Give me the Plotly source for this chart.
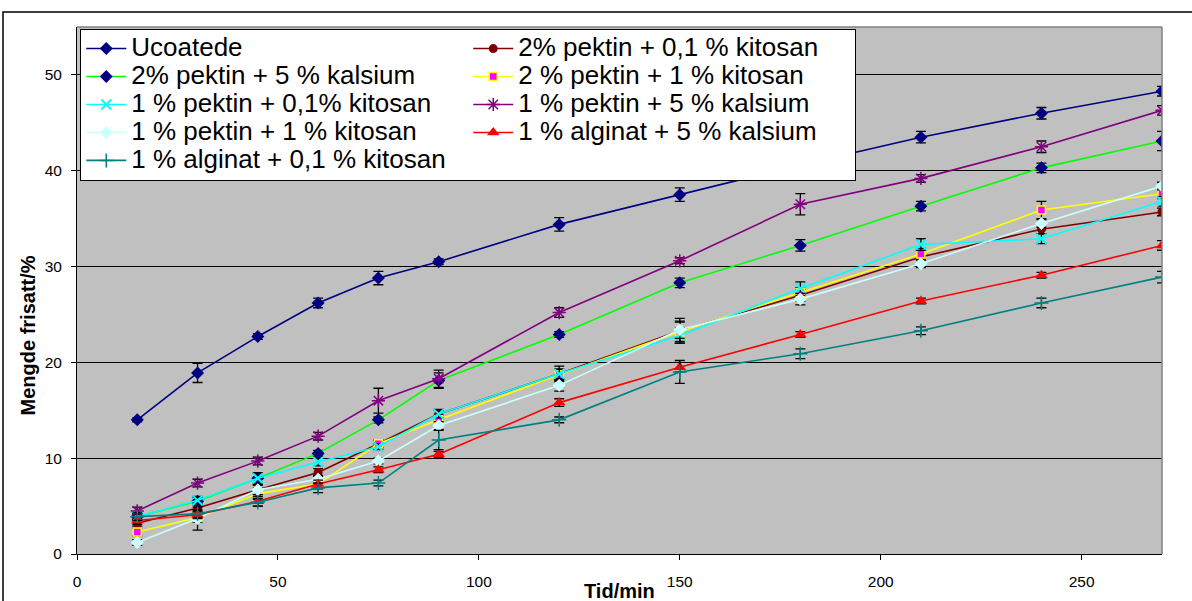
import plotly.graph_objects as go

# ---- data ----
time_min = [15, 30, 45, 60, 75, 90, 120, 150, 180, 210, 240, 270]

ucoatede = [14.0, 18.9, 22.7, 26.2, 28.8, 30.5, 34.4, 37.5, 40.6, 43.5, 46.0, 48.3]
p2_kit01 = [3.2, 4.8, 6.7, 8.5, 11.5, 14.6, 18.8, 23.3, 27.0, 31.0, 33.9, 35.7]
p2_kal5 = [3.9, 5.5, 7.9, 10.5, 14.0, 18.1, 22.9, 28.3, 32.2, 36.3, 40.3, 43.1]
p2_kit1 = [2.3, 3.8, 6.3, 7.3, 11.5, 14.0, 18.7, 23.2, 27.3, 31.3, 35.9, 37.6]
p1_kit01 = [3.9, 5.6, 7.9, 9.6, 11.2, 14.6, 18.8, 22.8, 27.7, 32.3, 32.9, 36.8]
p1_kal5 = [4.5, 7.4, 9.7, 12.3, 16.0, 18.3, 25.2, 30.6, 36.5, 39.2, 42.5, 46.3]
p1_kit1 = [1.2, 3.7, 6.7, 7.8, 9.7, 13.4, 17.6, 23.4, 26.6, 30.3, 34.5, 38.4]
a1_kal5 = [3.5, 4.1, 5.5, 7.3, 8.8, 10.4, 15.8, 19.5, 22.9, 26.4, 29.1, 32.2]
a1_kit01 = [3.9, 4.2, 5.4, 6.9, 7.4, 11.9, 14.0, 19.0, 20.9, 23.3, 26.2, 28.9]

ucoatede_err = [0.2, 1.0, 0.3, 0.5, 0.7, 0.3, 0.7, 0.7, 0.6, 0.6, 0.6, 0.5]
p2_kit01_err = [0.3, 0.4, 0.5, 0.4, 0.4, 0.5, 0.8, 1.3, 0.6, 0.6, 0.5, 0.4]
p2_kal5_err = [0.3, 0.4, 0.5, 0.3, 0.3, 0.8, 0.3, 0.5, 0.6, 0.5, 0.5, 1.0]
p2_kit1_err = [0.4, 0.5, 0.6, 0.5, 0.4, 0.5, 0.6, 1.0, 0.5, 0.6, 0.9, 0.5]
p1_kit01_err = [0.3, 0.4, 0.6, 0.4, 0.3, 0.4, 0.5, 0.8, 0.7, 0.6, 0.5, 0.5]
p1_kal5_err = [0.4, 0.4, 0.4, 0.4, 1.3, 0.9, 0.5, 0.3, 1.1, 0.4, 0.6, 0.5]
p1_kit1_err = [0.3, 1.2, 0.5, 0.4, 0.3, 0.4, 0.6, 0.9, 0.6, 0.4, 0.4, 0.4]
a1_kal5_err = [0.4, 0.4, 0.5, 0.4, 0.3, 0.3, 0.4, 0.5, 0.3, 0.3, 0.3, 0.5]
a1_kit01_err = [0.4, 0.4, 0.4, 0.5, 0.3, 1.0, 0.3, 1.2, 0.5, 0.4, 0.5, 0.6]

names = [
    "Ucoatede",
    "2% pektin + 0,1 % kitosan",
    "2% pektin + 5 % kalsium",
    "2 % pektin + 1 % kitosan",
    "1 % pektin + 0,1% kitosan",
    "1 % pektin + 5 % kalsium",
    "1 % pektin + 1 % kitosan",
    "1 % alginat + 5 % kalsium",
    "1 % alginat + 0,1 % kitosan",
]
series = [ucoatede, p2_kit01, p2_kal5, p2_kit1, p1_kit01, p1_kal5, p1_kit1, a1_kal5, a1_kit01]
errors = [ucoatede_err, p2_kit01_err, p2_kal5_err, p2_kit1_err, p1_kit01_err,
          p1_kal5_err, p1_kit1_err, a1_kal5_err, a1_kit01_err]

# style: (line colour, marker symbol, marker colour, marker line colour, marker size, marker line width)
styles = [
    ("#000080", "diamond", "#000080", "#000080", 10, 0),
    ("#800000", "circle", "#800000", "#800000", 9, 0),
    ("#00FF00", "diamond", "#000080", "#000080", 10, 0),
    ("#FFFF00", "square", "#FF00FF", "#FFFF00", 8, 1.5),
    ("#00FFFF", "x-thin-open", "#00FFFF", "#00FFFF", 10, 2),
    ("#800080", "asterisk-open", "#800080", "#800080", 11, 1.5),
    ("#CCFFFF", "diamond", "#CCFFFF", "#CCFFFF", 10, 0),
    ("#FF0000", "triangle-up", "#FF0000", "#FF0000", 11, 0),
    ("#008080", "cross-thin-open", "#008080", "#008080", 10, 1.5),
]

FONT = "Arial, 'Liberation Sans', sans-serif"

fig = go.Figure()
for name, ys, err, st in zip(names, series, errors, styles):
    lc, sym, mc, mlc, ms, mlw = st
    fig.add_trace(go.Scatter(
        x=time_min, y=ys, name='<span style="font-size:26px">' + name + '</span>',
        mode="lines+markers",
        line=dict(color=lc, width=1.6),
        marker=dict(symbol=sym, color=mc, size=ms, line=dict(color=mlc, width=mlw)),
        error_y=dict(type="data", array=err, visible=True, color="#000000",
                     thickness=1.3, width=5),
    ))

fig.update_layout(
    width=1192, height=601,
    margin=dict(l=77, r=30, t=27, b=47),
    paper_bgcolor="white",
    plot_bgcolor="#C0C0C0",
    font=dict(family=FONT, color="black"),
    showlegend=True,
    legend=dict(
        orientation="h",
        x=0.003, y=0.997, xanchor="left", yanchor="top",
        bgcolor="white", bordercolor="black", borderwidth=1,
        font=dict(family=FONT, size=19.2, color="black"),
        itemwidth=40,
        entrywidth=332, entrywidthmode="pixels",
        traceorder="normal",
    ),
    xaxis=dict(
        range=[0, 270], tickmode="array", tickvals=[0, 50, 100, 150, 200, 250],
        showgrid=False, zeroline=False,
        showline=True, linecolor="black", linewidth=1,
        ticks="outside", ticklen=5, tickcolor="black",
        tickfont=dict(size=15.5, color="black"),
        ticklabelstandoff=8,
    ),
    yaxis=dict(
        range=[0, 55], tickmode="array", tickvals=[0, 10, 20, 30, 40, 50],
        showgrid=True, gridcolor="#000000", gridwidth=1,
        zeroline=False,
        showline=True, linecolor="black", linewidth=1,
        ticks="outside", ticklen=5, tickcolor="black",
        tickfont=dict(size=15.5, color="black"),
        ticklabelstandoff=6,
    ),
    annotations=[
        dict(text="Tid/min", xref="paper", yref="paper", x=0.5, y=0,
             xanchor="center", yanchor="top", yshift=-24, showarrow=False,
             font=dict(family=FONT, size=20, color="black", weight="bold")),
        dict(text="Mengde frisatt/%", xref="paper", yref="paper", x=-0.045, y=0.415,
             xanchor="center", yanchor="middle", textangle=-90, showarrow=False,
             font=dict(family=FONT, size=20, color="black", weight="bold")),
    ],
    shapes=[
        # plot-area border (grey, top and right)
        dict(type="line", xref="paper", yref="paper", x0=0, x1=1, y0=1, y1=1,
             line=dict(color="#808080", width=1.5)),
        dict(type="line", xref="paper", yref="paper", x0=1, x1=1, y0=0, y1=1,
             line=dict(color="#808080", width=1.5)),
        # outer chart border
        dict(type="rect", xref="paper", yref="paper", x0=-0.0682, x1=1.2, y0=-0.3, y1=1.0285,
             line=dict(color="black", width=1.5)),
    ],
)

fig.write_html("out.html")
